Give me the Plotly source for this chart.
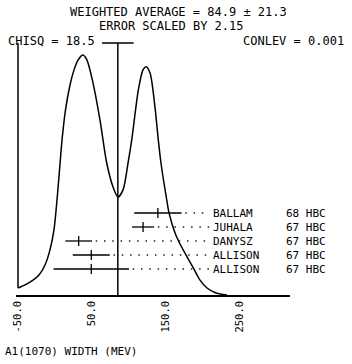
import plotly.graph_objects as go

# ---- data ----
# ideogram curve (x in MeV, height in arbitrary units, highest peak = 1)
CURVE_X = [-50, -40.5, -29.7, -21.6, -13.5, -6.8, -1.4, 2.7, 6.1, 9.5, 14.2, 20.3, 25.7, 31.1, 37.8,
           43.2, 51.4, 60.8, 69.9, 78.4, 85.1, 91.9, 98.7, 103.7, 112.6, 118.9, 123.0,
           128.4, 135.1, 139.6, 143.2, 151.0, 154.1, 162.2, 167.6, 177.0, 187.8, 196.0, 205.4, 217.6, 232.4]
CURVE_Y = [0.029, 0.042, 0.062, 0.083, 0.125, 0.188, 0.271, 0.396, 0.521, 0.646, 0.771, 0.875, 0.938, 0.979, 1.0,
           0.979, 0.883, 0.729, 0.55, 0.45, 0.408, 0.438, 0.55, 0.646, 0.854, 0.938, 0.951,
           0.925, 0.783, 0.646, 0.55, 0.396, 0.342, 0.258, 0.221, 0.167, 0.108, 0.062, 0.029, 0.008, 0.0]

NAMES = ["BALLAM", "JUHALA", "DANYSZ", "ALLISON", "ALLISON"]
REFS = ["68 HBC", "67 HBC", "67 HBC", "67 HBC", "67 HBC"]
VALUES = [139, 119, 32, 49, 49]
ERRORS = [32, 15, 18, 25, 51]

AVG = 84.9
AVG_ERR = 21.3
SCALE = 2.15
CHISQ = 18.5
CONLEV = 0.001

TICK_VALS = [-50, 50, 150, 250]
TICK_TEXT = ["-50.0", "50.0", "150.0", "250.0"]
XLABEL = "A1(1070) WIDTH (MEV)"

# ---- layout constants ----
FONT = "DejaVu Sans Mono"
TOP = 1.05
LEADER_END = 209
NAME_X = 211
REF_X = 309
W, H = 352, 364
ML, MR, MT, MB = 16, 62, 41, 69
PW, PH = W - ML - MR, H - MT - MB

n = len(NAMES)
rows = [n - 1 - i for i in range(n)]  # first entry on top

fig = go.Figure()
blk = dict(color="black", width=1.5)

fig.add_trace(go.Scatter(x=CURVE_X, y=CURVE_Y, mode="lines",
                         line=dict(color="black", width=1.5, shape="spline", smoothing=0.8)))
fig.add_trace(go.Scatter(x=[CURVE_X[0], CURVE_X[0]], y=[CURVE_Y[0], TOP], mode="lines", line=blk))
fig.add_trace(go.Scatter(x=[AVG, AVG], y=[0, TOP], mode="lines", line=blk))
fig.add_trace(go.Scatter(x=[AVG - AVG_ERR, AVG + AVG_ERR], y=[TOP, TOP], mode="lines", line=blk))

for v, e, r in zip(VALUES, ERRORS, rows):
    fig.add_trace(go.Scatter(x=[v + e + 5, LEADER_END], y=[r, r], yaxis="y2", mode="lines",
                             line=dict(color="#222222", width=1.5, dash="1.5px,6.8px")))

fig.add_trace(go.Scatter(x=VALUES, y=rows, yaxis="y2", mode="markers",
                         marker=dict(symbol="line-ns", size=7, color="black",
                                     line=dict(color="black", width=1.3)),
                         error_x=dict(type="data", array=ERRORS, thickness=1.3, width=0, color="black")))

for name, ref, r in zip(NAMES, REFS, rows):
    fig.add_annotation(x=NAME_X, y=r, xref="x", yref="y2", text=name, showarrow=False,
                       xanchor="left", yanchor="middle", font=dict(family=FONT, size=11, color="black"))
    fig.add_annotation(x=REF_X, y=r, xref="x", yref="y2", text=ref, showarrow=False,
                       xanchor="left", yanchor="middle", font=dict(family=FONT, size=11, color="black"))

def px(xp):
    return (xp - ML) / PW

def py(yp):
    return (H - MB - yp) / PH

tf = dict(family=FONT, size=12, color="black")
fig.add_annotation(x=px(178), y=py(12.5), xref="paper", yref="paper", showarrow=False,
                   text=f"WEIGHTED AVERAGE = {AVG} ± {AVG_ERR}", font=tf, xanchor="center", yanchor="middle")
fig.add_annotation(x=px(171), y=py(26.3), xref="paper", yref="paper", showarrow=False,
                   text=f"ERROR SCALED BY {SCALE}", font=tf, xanchor="center", yanchor="middle")
fig.add_annotation(x=px(6), y=py(40.8), xref="paper", yref="paper", showarrow=False,
                   text=f"CHISQ = {CHISQ}", font=tf, xanchor="left", yanchor="middle")
fig.add_annotation(x=px(346), y=py(40.8), xref="paper", yref="paper", showarrow=False,
                   text=f"CONLEV = {CONLEV}", font=tf, xanchor="right", yanchor="middle")
fig.add_annotation(x=px(3), y=py(351), xref="paper", yref="paper", showarrow=False,
                   text=XLABEL, font=dict(family=FONT, size=11, color="black"),
                   xanchor="left", yanchor="middle")

x0 = -50 - (18 - ML) / 0.74
x1 = x0 + PW / 0.74
fig.update_layout(
    width=W, height=H, autosize=False,
    margin=dict(l=ML, r=MR, t=MT, b=MB, pad=0),
    paper_bgcolor="white", plot_bgcolor="white",
    showlegend=False,
    xaxis=dict(range=[x0, x1], showline=True, linecolor="black", linewidth=1.5,
               showgrid=False, zeroline=False, ticks="", tickvals=TICK_VALS, ticktext=TICK_TEXT,
               tickangle=-90, tickfont=dict(family=FONT, size=10.5, color="black")),
    yaxis=dict(range=[0, PH / 240], visible=False, showgrid=False, zeroline=False),
    yaxis2=dict(range=[-26 / 14, -26 / 14 + PH / 14], overlaying="y", visible=False,
                showgrid=False, zeroline=False),
)

fig.write_html("out.html", config={"displayModeBar": False},
               post_script="document.body.style.margin='0px';document.body.style.overflow='hidden';")
